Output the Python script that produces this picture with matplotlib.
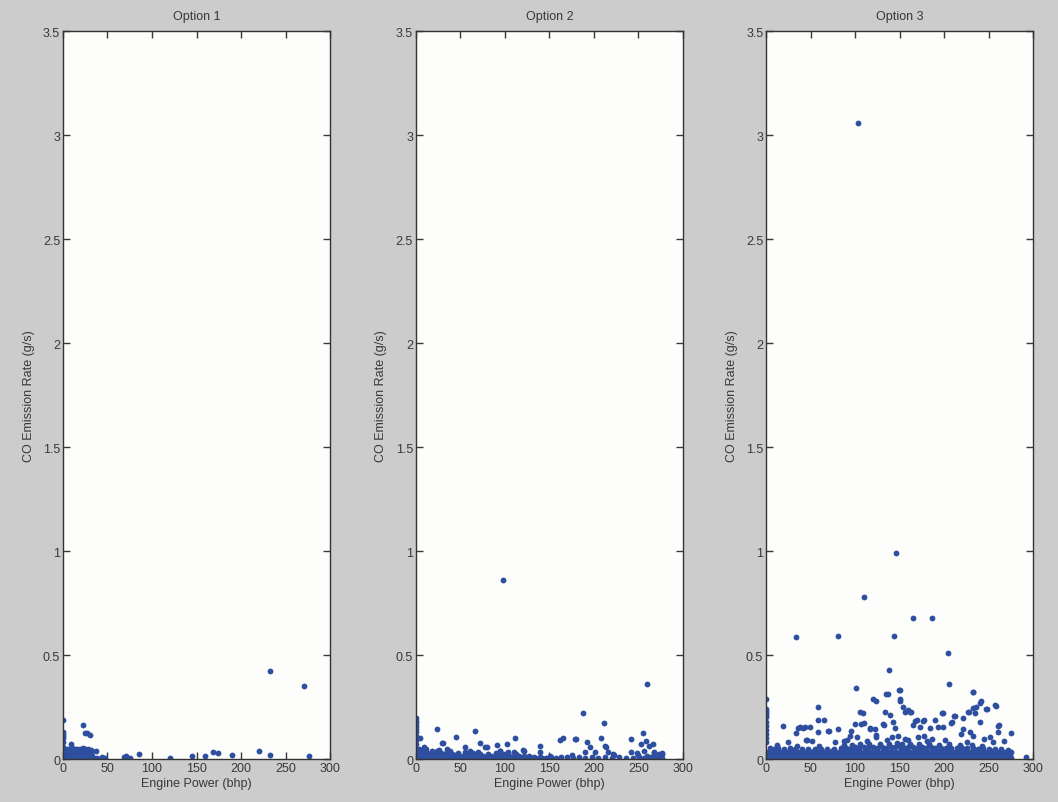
import matplotlib
matplotlib.use("Agg")
import matplotlib.pyplot as plt

# ---- data: (engine power bhp, CO g/s) ----
titles = ["Option 1", "Option 2", "Option 3"]
x_ticks = [0, 50, 100, 150, 200, 250, 300]
y_ticks = [0, 0.5, 1, 1.5, 2, 2.5, 3, 3.5]
y_tick_labels = ["0", "0.5", "1", "1.5", "2", "2.5", "3", "3.5"]

# Option 1
opt1_dense = [
    (0, 0.0), (0, 0.02), (0, 0.04), (0, 0.06), (0, 0.08), (0, 0.10), (0, 0.11), (0, 0.12), (0, 0.13),
    (2, 0.005), (5, 0.004), (8, 0.006), (11, 0.005), (14, 0.004), (17, 0.006), (20, 0.005),
    (23, 0.004), (26, 0.006), (29, 0.005), (32, 0.004), (35, 0.006), (38, 0.003),
    (3, 0.02), (6, 0.019), (9, 0.021), (12, 0.02), (15, 0.018), (18, 0.021), (21, 0.02),
    (24, 0.019), (27, 0.02), (30, 0.018), (33, 0.015),
    (2, 0.035), (5, 0.034), (8, 0.036), (11, 0.033), (14, 0.035), (17, 0.036), (20, 0.034),
    (23, 0.035), (26, 0.033), (29, 0.034), (31, 0.03),
    (4, 0.05), (7, 0.048), (10, 0.052), (13, 0.047), (16, 0.05), (19, 0.049), (22, 0.051),
    (25, 0.046), (28, 0.05), (31, 0.045),
]
opt1_sparse = [
    (0, 0.19), (9, 0.071), (22, 0.163), (25, 0.127), (27, 0.125), (30, 0.117), (37, 0.04),
    (44, 0.008), (47, 0.006), (68, 0.008), (71, 0.016), (75, 0.003), (85, 0.025), (120, 0.003),
    (145, 0.013), (160, 0.013), (169, 0.032), (174, 0.027), (190, 0.02), (220, 0.038),
    (232, 0.02), (233, 0.425), (271, 0.352), (276, 0.016),
]

# Option 2
opt2_dense = [
    (0, 0.03), (0, 0.05), (0, 0.07), (0, 0.09), (0, 0.11), (0, 0.13), (0, 0.143), (0, 0.16),
    (0, 0.175), (0, 0.185), (0, 0.198),
    (2, 0.004), (6, 0.005), (10, 0.003), (14, 0.005), (18, 0.004), (22, 0.003), (26, 0.005),
    (30, 0.004), (34, 0.003), (38, 0.005), (42, 0.004), (46, 0.003), (50, 0.005), (54, 0.004),
    (58, 0.003), (62, 0.005), (66, 0.004), (70, 0.003), (74, 0.005), (78, 0.004), (82, 0.003),
    (86, 0.005), (90, 0.004), (94, 0.003), (98, 0.005), (102, 0.004), (106, 0.003), (110, 0.005),
    (114, 0.004), (118, 0.003), (122, 0.005), (126, 0.004), (130, 0.003), (134, 0.005),
    (138, 0.004), (142, 0.003),
    (3, 0.017), (7, 0.016), (11, 0.018), (15, 0.016), (19, 0.017), (23, 0.015), (27, 0.018),
    (31, 0.016), (35, 0.017), (39, 0.015), (44, 0.018), (49, 0.016), (53, 0.017), (57, 0.015),
    (61, 0.016), (66, 0.018), (71, 0.017), (75, 0.015), (80, 0.016), (85, 0.017), (89, 0.015),
    (93, 0.018), (97, 0.016), (101, 0.017), (105, 0.015), (110, 0.016), (116, 0.014),
    (121, 0.015), (127, 0.013), (133, 0.012), (139, 0.012),
    (2, 0.03), (5, 0.032), (9, 0.028), (13, 0.031), (17, 0.029), (22, 0.03), (28, 0.027),
    (34, 0.029), (41, 0.026), (47, 0.028), (56, 0.025), (64, 0.027), (72, 0.026), (81, 0.025),
    (90, 0.028), (96, 0.024), (100, 0.026), (104, 0.025), (113, 0.022),
    (1, 0.045), (4, 0.05), (8, 0.044), (12, 0.047), (18, 0.04), (26, 0.042), (38, 0.038),
    (55, 0.036), (70, 0.035), (95, 0.037), (103, 0.036),
    (146, 0.006), (152, 0.012), (158, 0.004), (163, 0.008), (170, 0.01), (176, 0.005),
    (183, 0.011), (190, 0.004), (198, 0.009), (205, 0.006), (212, 0.012), (220, 0.005),
    (228, 0.01), (236, 0.007), (244, 0.004), (251, 0.011), (256, 0.006), (260, 0.013),
    (264, 0.008), (268, 0.005), (272, 0.01), (276, 0.007),
]
opt2_sparse = [
    (5, 0.1), (24, 0.143), (30, 0.076), (45, 0.105), (66, 0.137), (72, 0.076), (78, 0.057),
    (91, 0.067), (102, 0.071), (111, 0.102), (120, 0.044), (139, 0.063), (151, 0.016),
    (162, 0.09), (165, 0.103), (175, 0.019), (180, 0.095), (188, 0.222), (192, 0.083),
    (196, 0.059), (208, 0.102), (211, 0.175), (214, 0.059), (216, 0.035), (223, 0.019),
    (242, 0.095), (242, 0.035), (255, 0.124), (253, 0.071), (260, 0.362), (259, 0.087),
    (266, 0.071), (268, 0.032), (276, 0.024), (98, 0.86),
    (9, 0.056), (29, 0.077), (35, 0.048), (24, 0.04), (55, 0.056), (61, 0.04), (80, 0.056),
    (95, 0.04), (110, 0.032), (121, 0.04), (140, 0.035), (179, 0.096), (190, 0.032),
    (201, 0.032), (213, 0.064), (222, 0.024), (256, 0.04), (262, 0.064), (267, 0.029),
    (273, 0.024), (277, 0.029), (248, 0.029), (249, 0.019),
]

# Option 3
opt3_dense = [
    (0, 0.08), (0, 0.1), (0, 0.12), (0, 0.14), (0, 0.16), (0, 0.18), (0, 0.2), (0, 0.21),
    (0, 0.22), (0, 0.23), (0, 0.24),
    (1, 0.005), (5, 0.004), (9, 0.006), (13, 0.005), (17, 0.004), (21, 0.006), (25, 0.005),
    (29, 0.004), (33, 0.006), (37, 0.005), (41, 0.004), (45, 0.006), (49, 0.005), (53, 0.004),
    (57, 0.006), (61, 0.005), (65, 0.004), (69, 0.006), (73, 0.005), (77, 0.004), (81, 0.006),
    (85, 0.005), (89, 0.004), (93, 0.006), (97, 0.005), (101, 0.004), (105, 0.006), (109, 0.005),
    (113, 0.004), (117, 0.006), (121, 0.005), (125, 0.004), (129, 0.006), (133, 0.005),
    (137, 0.004), (141, 0.006), (145, 0.005), (149, 0.004), (153, 0.006), (157, 0.005),
    (161, 0.004), (165, 0.006), (169, 0.005), (173, 0.004), (177, 0.006), (181, 0.005),
    (185, 0.004), (189, 0.006), (193, 0.005), (197, 0.004), (201, 0.006), (205, 0.005),
    (209, 0.004), (213, 0.006), (217, 0.005), (221, 0.004), (225, 0.006), (229, 0.005),
    (233, 0.004), (237, 0.006), (241, 0.005), (245, 0.004), (249, 0.006), (253, 0.005),
    (257, 0.004), (261, 0.006), (265, 0.005), (269, 0.004), (273, 0.006), (275, 0.005),
    (3, 0.02), (7, 0.019), (11, 0.021), (15, 0.02), (19, 0.018), (23, 0.021), (27, 0.02),
    (31, 0.019), (35, 0.02), (39, 0.018), (43, 0.021), (47, 0.02), (51, 0.019), (55, 0.02),
    (59, 0.018), (63, 0.021), (67, 0.02), (71, 0.019), (75, 0.02), (79, 0.018), (83, 0.021),
    (87, 0.02), (91, 0.019), (95, 0.02), (99, 0.018), (103, 0.021), (107, 0.02), (111, 0.019),
    (115, 0.02), (119, 0.018), (123, 0.021), (127, 0.02), (131, 0.019), (135, 0.02),
    (139, 0.018), (143, 0.021), (147, 0.02), (151, 0.019), (155, 0.02), (159, 0.018),
    (163, 0.021), (167, 0.02), (171, 0.019), (175, 0.02), (179, 0.018), (183, 0.021),
    (187, 0.02), (191, 0.019), (195, 0.02), (199, 0.018), (203, 0.021), (207, 0.02),
    (211, 0.019), (215, 0.02), (219, 0.018), (223, 0.021), (227, 0.02), (231, 0.019),
    (235, 0.02), (239, 0.018), (243, 0.021), (247, 0.02), (251, 0.019), (255, 0.02),
    (259, 0.018), (263, 0.021), (267, 0.02), (271, 0.019), (274, 0.02),
    (2, 0.036), (6, 0.034), (10, 0.035), (14, 0.037), (18, 0.033), (22, 0.036), (26, 0.034),
    (30, 0.035), (34, 0.037), (38, 0.033), (42, 0.036), (46, 0.034), (50, 0.035), (54, 0.037),
    (58, 0.033), (62, 0.036), (66, 0.034), (70, 0.035), (74, 0.037), (78, 0.033), (82, 0.036),
    (86, 0.034), (90, 0.035), (94, 0.037), (98, 0.033), (102, 0.036), (106, 0.034),
    (110, 0.035), (114, 0.037), (118, 0.033), (122, 0.036), (126, 0.034), (130, 0.035),
    (134, 0.037), (138, 0.033), (142, 0.036), (146, 0.034), (150, 0.035), (154, 0.037),
    (158, 0.033), (162, 0.036), (166, 0.034), (170, 0.035), (174, 0.037), (178, 0.033),
    (182, 0.036), (186, 0.034), (190, 0.035), (194, 0.037), (198, 0.033), (202, 0.036),
    (206, 0.034), (210, 0.035), (214, 0.037), (218, 0.033), (222, 0.036), (226, 0.034),
    (230, 0.035), (234, 0.037), (238, 0.033), (242, 0.036), (246, 0.034), (250, 0.035),
    (254, 0.037), (258, 0.033), (262, 0.036), (266, 0.034), (270, 0.035), (275, 0.033),
    (4, 0.052), (9, 0.05), (14, 0.053), (20, 0.049), (27, 0.051), (33, 0.048), (40, 0.05),
    (47, 0.047), (55, 0.049), (62, 0.05), (68, 0.048), (76, 0.05), (84, 0.052), (90, 0.055),
    (95, 0.053), (100, 0.056), (105, 0.054), (110, 0.057), (115, 0.055), (120, 0.056),
    (125, 0.054), (130, 0.057), (135, 0.055), (140, 0.058), (145, 0.056), (150, 0.057),
    (155, 0.055), (160, 0.058), (165, 0.056), (170, 0.054), (175, 0.057), (180, 0.055),
    (185, 0.056), (190, 0.054), (196, 0.055), (202, 0.053), (208, 0.055), (214, 0.052),
    (220, 0.054), (226, 0.051), (232, 0.053), (238, 0.05), (244, 0.052), (250, 0.049),
    (257, 0.05), (264, 0.047), (272, 0.045),
    (12, 0.066), (35, 0.064), (60, 0.063), (88, 0.067), (97, 0.069), (106, 0.072), (116, 0.07),
    (128, 0.074), (138, 0.073), (147, 0.075), (153, 0.072), (162, 0.074), (172, 0.071),
    (183, 0.07), (194, 0.068), (206, 0.07), (218, 0.067), (231, 0.066), (243, 0.064),
]
opt3_sparse = [
    (0, 0.29), (19, 0.159), (34, 0.587), (34, 0.124), (38, 0.155), (44, 0.155), (49, 0.155),
    (46, 0.092), (58, 0.252), (58, 0.187), (65, 0.19), (58, 0.13), (71, 0.135), (81, 0.592),
    (81, 0.144), (91, 0.092), (96, 0.135), (101, 0.341), (100, 0.167), (106, 0.227),
    (109, 0.219), (110, 0.779), (110, 0.171), (117, 0.148), (120, 0.29), (123, 0.278),
    (124, 0.116), (134, 0.224), (135, 0.314), (137, 0.314), (138, 0.43), (139, 0.211),
    (133, 0.163), (144, 0.592), (150, 0.333), (150, 0.287), (154, 0.25), (156, 0.227),
    (160, 0.235), (162, 0.227), (165, 0.678), (165, 0.163), (170, 0.187), (177, 0.187),
    (190, 0.187), (186, 0.676), (198, 0.222), (204, 0.508), (206, 0.359), (209, 0.176),
    (212, 0.208), (221, 0.198), (227, 0.227), (233, 0.322), (235, 0.219), (236, 0.25),
    (242, 0.278), (247, 0.24), (257, 0.259), (262, 0.163), (275, 0.124), (292, 0.008),
    (261, 0.132), (149, 0.33), (233, 0.32), (151, 0.28), (240, 0.27), (258, 0.256),
    (248, 0.24), (163, 0.227), (199, 0.22), (211, 0.205), (228, 0.224), (232, 0.244),
    (36, 0.15), (42, 0.15), (45, 0.09), (70, 0.135), (88, 0.088), (94, 0.112), (102, 0.104),
    (107, 0.168), (117, 0.144), (122, 0.144), (131, 0.168), (143, 0.176), (145, 0.147),
    (167, 0.184), (176, 0.184), (173, 0.152), (184, 0.147), (193, 0.152), (199, 0.152),
    (208, 0.173), (221, 0.144), (229, 0.128), (233, 0.112), (240, 0.176), (261, 0.16),
    (124, 0.104), (141, 0.104), (148, 0.112), (156, 0.096), (171, 0.104), (178, 0.112),
    (186, 0.096), (219, 0.12), (245, 0.096), (252, 0.104), (267, 0.088),
    (25, 0.082), (52, 0.085), (77, 0.08), (113, 0.088), (136, 0.09), (159, 0.092),
    (181, 0.086), (201, 0.09), (226, 0.084), (255, 0.08),
    (103, 3.056), (146, 0.99),
]

series = [opt1_dense + opt1_sparse, opt2_dense + opt2_sparse, opt3_dense + opt3_sparse]

# ---- figure ----
plt.rcParams['font.family'] = ['Liberation Sans', 'DejaVu Sans']
fig = plt.figure(figsize=(10.58, 8.03), dpi=100, facecolor='#cccccc')

lefts = [0.0595, 0.393, 0.724]
for i in range(3):
    ax = fig.add_axes([lefts[i], 0.0535, 0.2525, 0.9066])
    ax.set_facecolor('#fdfefb')
    x = [p[0] for p in series[i]]
    y = [p[1] for p in series[i]]
    ax.plot(x, y, linestyle='none', marker='o', ms=4.2, mew=0, color='#2e4ea0')
    ax.set_xlim(0, 300)
    ax.set_ylim(0, 3.5)
    ax.set_xticks(x_ticks)
    ax.set_yticks(y_ticks)
    ax.set_yticklabels(y_tick_labels)
    ax.tick_params(direction='in', top=True, right=True, length=5, width=1,
                   labelsize=9, colors='#383838', pad=2)
    for s in ax.spines.values():
        s.set_color('#333333')
        s.set_linewidth(1)
    ax.set_title(titles[i], fontsize=9, color='#383838', pad=9)
    ax.set_xlabel("Engine Power (bhp)", fontsize=9, color='#383838', labelpad=2)
    ax.set_ylabel("CO Emission Rate (g/s)", fontsize=9, color='#383838', labelpad=6)

plt.savefig("out.png", dpi=100, facecolor=fig.get_facecolor())
